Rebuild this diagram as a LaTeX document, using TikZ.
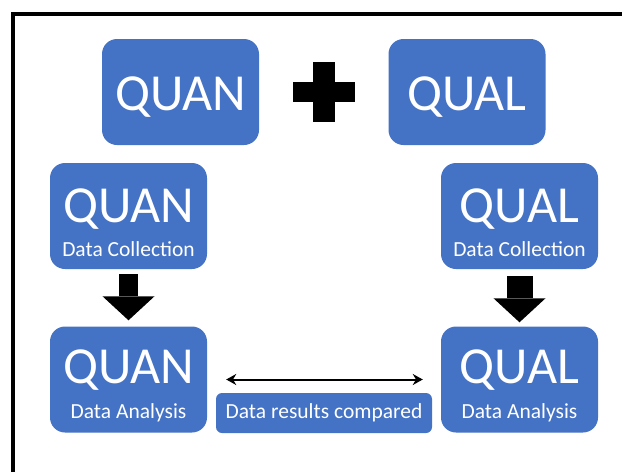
\documentclass[tikz,border=0pt]{standalone}
\usepackage{fontspec}
\setmainfont{Carlito}
\usetikzlibrary{arrows.meta}
\definecolor{boxblue}{HTML}{4472C4}

\begin{document}
\begin{tikzpicture}[x=1pt,y=-1pt,
  box/.style={fill=boxblue,rounded corners=15pt,minimum width=157pt,minimum height=106pt,inner sep=0pt},
  big/.style={text=white,font=\fontsize{52}{60}\selectfont,anchor=base,inner sep=0pt},
  small/.style={text=white,font=\fontsize{21.5}{25}\selectfont,anchor=base,inner sep=0pt},
  fat/.style={line width=#1,-{Triangle[width=52pt,length=24pt,line width=0pt]}}]
  \useasboundingbox (0,0) rectangle (622,472);
  \draw[line width=4pt] (13,472) -- (13,14) -- (622,14);

  \node[box] (quan) at (180.5,92) {};
  \node[big] (quanT) at (180.5,110) {QUAN};
  \node[box] (qual) at (467,92) {};
  \node[big] (qualT) at (467,110) {QUAL};
  \fill (313,62) rectangle (335,122);
  \fill (293,82) rectangle (355,102);

  \node[box] (quanColl) at (128.5,216) {};
  \node[big] (quanCollT) at (128.5,222) {QUAN};
  \node[small] (quanCollS) at (128.5,256) {Data Collection};
  \node[box] (qualColl) at (519.5,216) {};
  \node[big] (qualCollT) at (519.5,222) {QUAL};
  \node[small] (qualCollS) at (519.5,256) {Data Collection};

  \node[box] (quanAna) at (128.5,379.5) {};
  \node[big] (quanAnaT) at (128.5,383) {QUAN};
  \node[small] (quanAnaS) at (128.5,418) {Data Analysis};
  \node[box] (qualAna) at (519.5,379.5) {};
  \node[big] (qualAnaT) at (519.5,383) {QUAL};
  \node[small] (qualAnaS) at (519.5,418) {Data Analysis};

  \node[box,minimum width=216pt,minimum height=40pt,rounded corners=6pt,text=white,font=\fontsize{21.5}{25}\selectfont] (res) at (324,413) {Data results compared};

  \draw[fat=19pt,shorten <=5pt,shorten >=6pt] (quanColl) -- (quanAna);
  \draw[fat=26pt,shorten <=7pt,shorten >=4pt] (qualColl) -- (qualAna);
  \draw[line width=2pt,{Stealth[length=10pt,width=11pt]}-{Stealth[length=10pt,width=11pt]},shorten <=19pt,shorten >=18pt] (quanAna.east) -- (qualAna.west);
\end{tikzpicture}
\end{document}
